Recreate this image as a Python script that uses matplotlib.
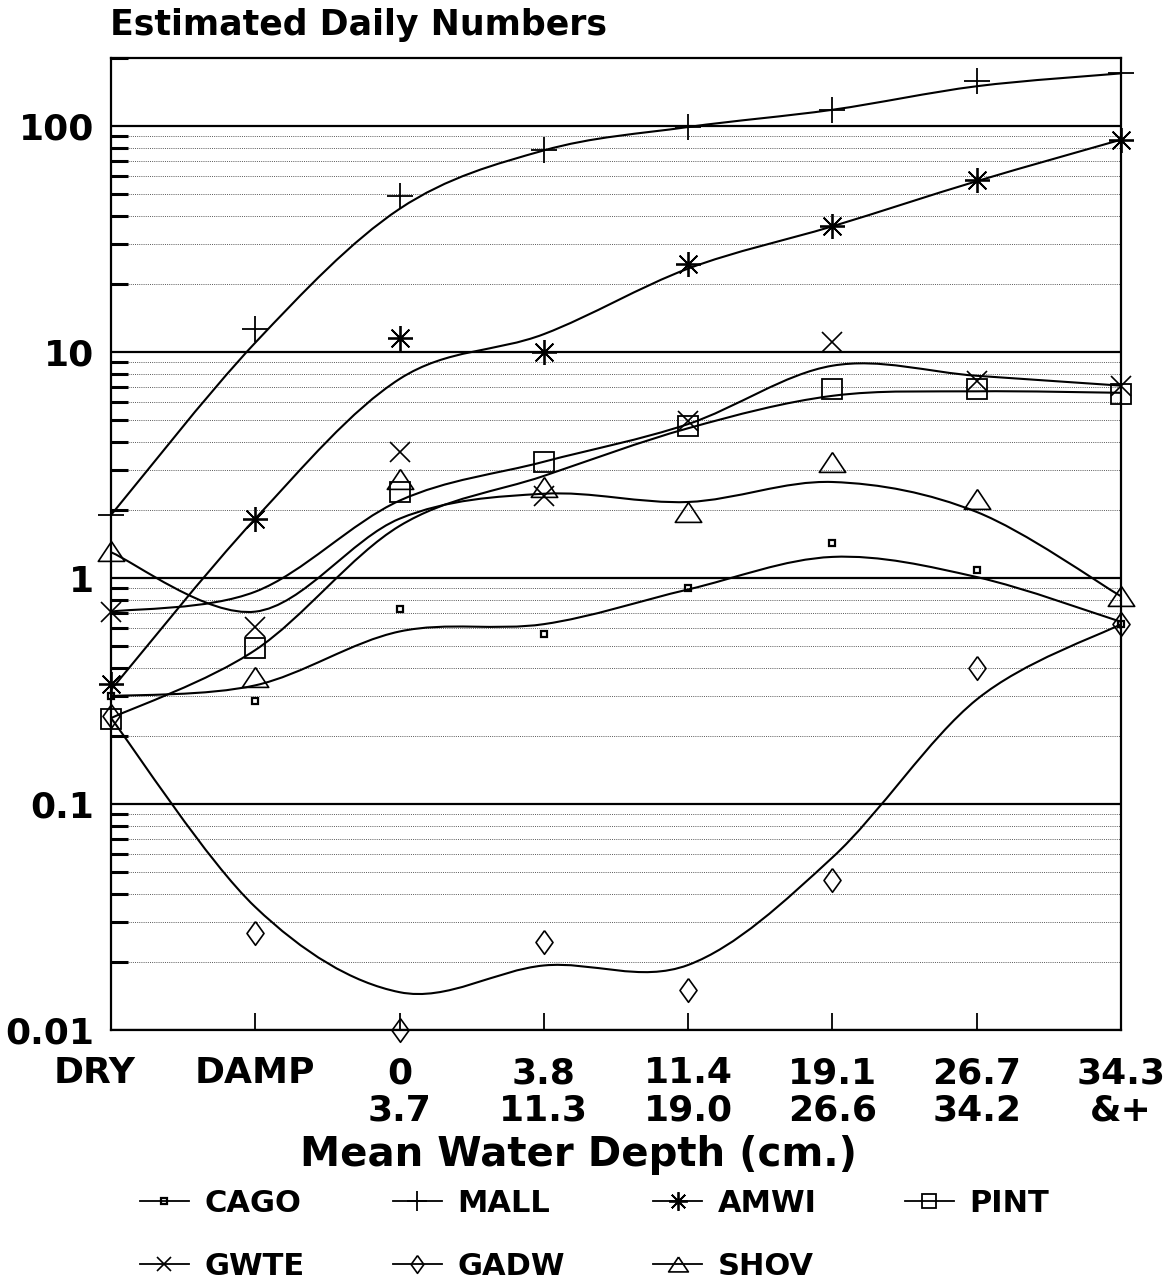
import numpy as np
import matplotlib
matplotlib.use("Agg")
import matplotlib.pyplot as plt
from matplotlib.path import Path
from matplotlib.patches import PathPatch
from matplotlib.lines import Line2D
from matplotlib.transforms import ScaledTranslation

# categories (mean water depth classes)
depth_top = ["DRY", "DAMP", "0", "3.8", "11.4", "19.1", "26.7", "34.3"]
depth_bottom = ["", "", "3.7", "11.3", "19.0", "26.6", "34.2", "&+"]

# observed daily numbers (markers)
cago = [0.30, 0.285, 0.73, 0.565, 0.90, 1.43, 1.08, 0.625]
mall = [1.9, 12.7, 48.8, 78, 99, 118, 159, 171]
amwi = [0.34, 1.83, 11.5, 10.0, 24.4, 36, 57.6, 87]
pint = [0.237, 0.49, 2.4, 3.27, 4.71, 6.87, 6.87, 6.53]
gwte = [0.71, 0.61, 3.6, 2.31, 4.96, 11.1, 7.46, 7.1]
gadw = [0.245, 0.027, 0.01, 0.0244, 0.015, 0.046, 0.40, 0.625]
shov = [1.32, 0.364, 2.75, 2.53, 1.96, 3.27, 2.24, 0.83]

# smoothed curve values read at each depth class
cago_fit = [0.30, 0.335, 0.58, 0.625, 0.89, 1.24, 1.01, 0.64]
mall_fit = [1.9, 11, 43, 78, 99, 118, 150, 171]
amwi_fit = [0.32, 1.83, 7.6, 12.0, 23.4, 36, 57, 87]
pint_fit = [0.24, 0.48, 1.70, 2.83, 4.6, 6.4, 6.7, 6.6]
gwte_fit = [0.71, 0.87, 2.2, 3.27, 4.8, 8.7, 7.85, 7.1]
gadw_fit = [0.24, 0.035, 0.0147, 0.0193, 0.0194, 0.058, 0.29, 0.625]
shov_fit = [1.3, 0.71, 1.83, 2.36, 2.17, 2.66, 1.96, 0.83]

tri = [(0, 0.75), (-1, -0.75), (1, -0.75), (0, 0.75)]
dia = [(0, 1), (0.72, 0), (0, -1), (-0.72, 0), (0, 1)]

series = [
    ("CAGO", cago, cago_fit, dict(marker="s", markersize=5, mew=1.6)),
    ("MALL", mall, mall_fit, dict(marker="+", markersize=19, mew=1.3)),
    ("AMWI", amwi, amwi_fit, dict(marker=(8, 2, 0), markersize=18, mew=1.3)),
    ("PINT", pint, pint_fit, dict(marker="s", markersize=14, mew=1.3)),
    ("GWTE", gwte, gwte_fit, dict(marker="x", markersize=14, mew=1.2)),
    ("GADW", gadw, gadw_fit, dict(marker=dia, markersize=17, mew=1.2)),
    ("SHOV", shov, shov_fit, dict(marker=tri, markersize=19, mew=1.2)),
]


def smooth_path(xs, ys):
    # Catmull-Rom curve through the fitted values, drawn as bezier segments in log space
    pts = np.column_stack([xs, np.log10(ys)])
    ext = np.vstack([pts[0], pts, pts[-1]])
    verts = [pts[0]]
    codes = [Path.MOVETO]
    for i in range(len(pts) - 1):
        p0, p1, p2, p3 = ext[i], ext[i + 1], ext[i + 2], ext[i + 3]
        verts += [p1 + (p2 - p0) / 6, p2 - (p3 - p1) / 6, p2]
        codes += [Path.CURVE4] * 3
    verts = np.array(verts)
    verts[:, 1] = 10 ** verts[:, 1]
    return Path(verts, codes)


plt.rcParams["font.family"] = "DejaVu Sans"
plt.rcParams["font.weight"] = "bold"
fig = plt.figure(figsize=(11.73, 12.83), dpi=100)
ax = fig.add_axes([111 / 1173, 1 - 1030 / 1283, (1121 - 111) / 1173, (1030 - 58) / 1283])
ax.set_yscale("log")
ax.set_xlim(0, len(depth_top) - 1)
ax.set_ylim(0.01, 200)

x = np.arange(len(depth_top))
handles = []
for name, vals, fit, style in series:
    ax.add_patch(PathPatch(smooth_path(x, fit), fill=False, lw=1.5, ec="black", zorder=3))
    ax.plot(x, vals, linestyle="none", color="black", mfc="none", clip_on=False, zorder=4, **style)
    handles.append(Line2D([], [], color="black", lw=1.3, mfc="none", label=name, **style))

# grid
ax.yaxis.grid(True, which="major", color="black", lw=1.6)
ax.yaxis.grid(True, which="minor", color="0.35", lw=0.7, linestyle=(0, (1, 1.2)))
ax.set_axisbelow(True)
for s in ax.spines.values():
    s.set_linewidth(1.6)

ax.set_yticks([0.01, 0.1, 1, 10, 100])
ax.set_yticklabels(["0.01", "0.1", "1", "10", "100"], fontsize=26)
ax.tick_params(axis="y", which="major", length=0, pad=12)
ax.tick_params(axis="y", which="minor", direction="in", length=12, width=2.2, labelleft=False)
ax.yaxis.set_minor_formatter(plt.NullFormatter())

ax.set_xticks(x)
ax.set_xticklabels([t if not b else t + "\n" + b for t, b in zip(depth_top, depth_bottom)],
                   fontsize=26, linespacing=1.1)
ax.tick_params(axis="x", direction="in", length=12, width=1.3, pad=19)
lbl = ax.get_xticklabels()[0]
lbl.set_transform(lbl.get_transform() + ScaledTranslation(-0.16, 0, fig.dpi_scale_trans))

fig.text(110 / 1173, 1 - 25 / 1283, "Estimated Daily Numbers", fontsize=25, va="center", ha="left")
fig.text(579 / 1173, 1 - 1155 / 1283, "Mean Water Depth (cm.)", fontsize=29, va="center", ha="center")

order = [0, 4, 1, 5, 2, 6, 3]
fig.legend([handles[i] for i in order], [handles[i].get_label() for i in order],
           loc="upper left", bbox_to_anchor=(140 / 1173, 1 - 1189 / 1283), ncol=4,
           frameon=False, fontsize=22, handlelength=1.6, handletextpad=0.5,
           columnspacing=2.9, labelspacing=1.1, borderpad=0, borderaxespad=0, markerscale=0.75)

fig.savefig("out.png", dpi=100)
